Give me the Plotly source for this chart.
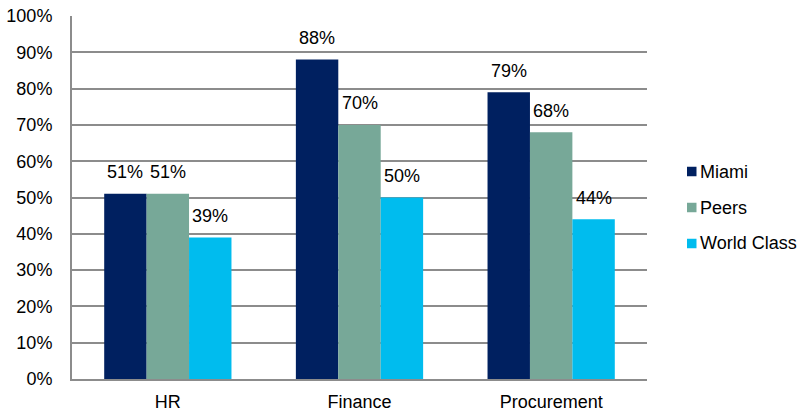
import plotly.graph_objects as go

# Share of processes, by function and comparison group
functions = ["HR", "Finance", "Procurement"]
miami = [0.51, 0.88, 0.79]
peers = [0.51, 0.70, 0.68]
world_class = [0.39, 0.50, 0.44]

series = [
    ("Miami", miami, "#002060"),
    ("Peers", peers, "#77A898"),
    ("World Class", world_class, "#00BCEE"),
]

FONT = "Liberation Sans, Arial, sans-serif"
W, H = 801, 411
M = dict(l=72, r=154, t=16, b=32)
plot_w = W - M["l"] - M["r"]
plot_h = H - M["t"] - M["b"]

fig = go.Figure()
for name, vals, color in series:
    fig.add_trace(go.Bar(
        name=name, x=functions, y=vals,
        marker=dict(color=color, line=dict(width=0)),
        hoverinfo="skip", showlegend=False,
    ))

# value labels floating above each bar
cat_w = plot_w / len(functions)
bargap = 0.336
bar_w = cat_w * (1 - bargap) / len(series)
for i, (name, vals, color) in enumerate(series):
    dx = (i - (len(series) - 1) / 2) * bar_w
    for cat, v in zip(functions, vals):
        fig.add_annotation(
            x=cat, y=v, xref="x", yref="y",
            text=f"{round(v * 100)}%", showarrow=False,
            xshift=dx, yshift=21.5, yanchor="middle",
            font=dict(family=FONT, size=18, color="#000000"),
        )

# legend to the right of the plot: small square swatch + name
def px_x(px):
    return (px - M["l"]) / plot_w


def px_y(py):
    return (H - M["b"] - py) / plot_h


legend_top, legend_step, sw = 171.5, 36, 9.5
for i, (name, vals, color) in enumerate(series):
    cy = legend_top + i * legend_step
    fig.add_shape(
        type="rect", xref="paper", yref="paper",
        x0=px_x(687), x1=px_x(687 + sw),
        y0=px_y(cy + sw / 2), y1=px_y(cy - sw / 2),
        fillcolor=color, line=dict(width=0),
    )
    fig.add_annotation(
        x=px_x(698), y=px_y(cy), xref="paper", yref="paper",
        text=name, showarrow=False, xanchor="left", yanchor="middle",
        font=dict(family=FONT, size=18, color="#000000"),
    )

fig.update_layout(
    width=W, height=H, margin=M,
    paper_bgcolor="white", plot_bgcolor="white",
    barmode="group", bargap=bargap, bargroupgap=0,
    font=dict(family=FONT, size=18, color="#000000"),
    showlegend=False,
)
fig.update_xaxes(
    showline=True, linecolor="#8C8C8C", linewidth=2,
    showgrid=False, ticks="", ticklabelstandoff=5, automargin=False,
    tickfont=dict(family=FONT, size=18),
)
fig.update_yaxes(
    range=[0, 1], dtick=0.1, tickformat=".0%",
    showline=True, linecolor="#8C8C8C", linewidth=2,
    showgrid=True, gridcolor="#8C8C8C", gridwidth=2,
    zeroline=False, ticks="", ticklabelstandoff=14, automargin=False,
    tickfont=dict(family=FONT, size=18),
)

fig.write_html("out.html")
